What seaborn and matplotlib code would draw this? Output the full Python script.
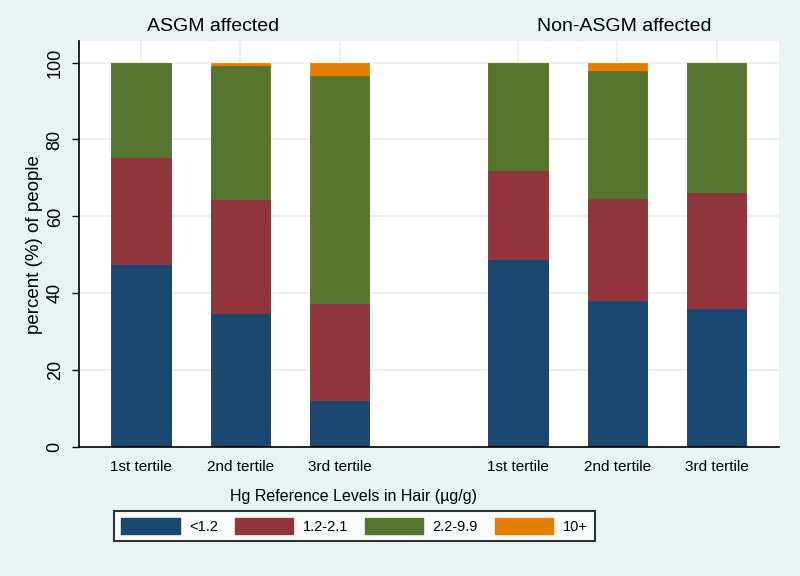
import numpy as np
import pandas as pd
import matplotlib
matplotlib.use("Agg")
import matplotlib.pyplot as plt
from matplotlib.patches import Patch
import seaborn as sns

# ============================
# DADOS
# ============================
tertiles = ["1st tertile", "2nd tertile", "3rd tertile",
            "1st tertile", "2nd tertile", "3rd tertile"]
groups = ["ASGM affected"] * 3 + ["Non-ASGM affected"] * 3
levels = ["<1.2", "1.2-2.1", "2.2-9.9", "10+"]

lt_1_2 = [47.3, 34.7, 12.0, 48.8, 38.0, 35.9]
r_1_2_2_1 = [27.9, 29.5, 25.3, 23.0, 26.6, 30.2]
r_2_2_9_9 = [24.8, 35.0, 59.2, 28.2, 33.3, 33.9]
ge_10 = [0.0, 0.8, 3.5, 0.0, 2.1, 0.0]

colors = ["#1a476f", "#90353b", "#55752f", "#e37e00"]
bg = "#eaf2f3"

# posicoes das barras (grupo com intervalo)
pos = [1, 2, 3, 4.8, 5.8, 6.8]

df = pd.DataFrame({"pos": pos, "tertile": tertiles, "group": groups,
                   levels[0]: lt_1_2, levels[1]: r_1_2_2_1,
                   levels[2]: r_2_2_9_9, levels[3]: ge_10})
cum = df[levels].cumsum(axis=1)
for lv in levels:
    df["cum_" + lv] = cum[lv]

# ============================
# GRAFICO
# ============================
sns.set_theme(style="white")
plt.rcParams["font.family"] = ["Liberation Sans", "DejaVu Sans"]
plt.rcParams["text.color"] = "black"
plt.rcParams["axes.labelcolor"] = "black"
plt.rcParams["xtick.color"] = "black"
plt.rcParams["ytick.color"] = "black"

fig = plt.figure(figsize=(8, 5.76), dpi=100, facecolor=bg)
ax = fig.add_axes([79 / 800, 1 - 447.3 / 576, 700 / 800, 406.3 / 576])
ax.set_facecolor("white")

# gridlines
for p in pos:
    ax.axvline(p, color=bg, lw=1.5, zorder=0)
for yv in [20, 40, 60, 80, 100]:
    ax.axhline(yv, color=bg, lw=1.5, zorder=0)

# barras empilhadas (do total acumulado para baixo)
for lv, c in reversed(list(zip(levels, colors))):
    sns.barplot(data=df, x="pos", y="cum_" + lv, native_scale=True,
                color=c, saturation=1, width=0.6, errorbar=None,
                edgecolor=c, linewidth=0.5, ax=ax, zorder=2)

ax.set_xlim(0.374, 7.43)
ax.set_ylim(0, 105.6)
ax.set_xticks(pos)
ax.set_xticklabels(tertiles, fontsize=11)
ax.set_yticks([0, 20, 40, 60, 80, 100])
ax.set_yticklabels(["0", "20", "40", "60", "80", "100"], fontsize=13,
                   rotation=90, va="center")
ax.tick_params(axis="x", length=0, pad=9)
ax.tick_params(axis="y", length=5, width=1, color="black", pad=6,
               direction="out", left=True)
ax.set_xlabel("")
ax.set_ylabel("percent (%) of people", fontsize=13.5, labelpad=3)

for s in ["top", "right"]:
    ax.spines[s].set_visible(False)
for s in ["left", "bottom"]:
    ax.spines[s].set_color("black")
    ax.spines[s].set_linewidth(1.2)

# titulos dos grupos
trans = ax.get_xaxis_transform()
ax.text(1.73, 1.0345, "ASGM affected", transform=trans, ha="center",
        va="center", fontsize=14)
ax.text(5.87, 1.0345, "Non-ASGM affected", transform=trans, ha="center",
        va="center", fontsize=14)

fig.text(353.5 / 800, 1 - 497 / 576, "Hg Reference Levels in Hair (µg/g)",
         ha="center", va="center", fontsize=11.5)

handles = [Patch(facecolor=c, edgecolor=c) for c in colors]
leg = fig.legend(handles, levels, loc="upper left",
                 bbox_to_anchor=(114 / 800, 1 - 510.7 / 576), ncol=4,
                 fontsize=10.5, handlelength=4.0, handleheight=1.3,
                 handletextpad=0.65, columnspacing=1.15, borderpad=0.5,
                 frameon=True, fancybox=False, borderaxespad=0)
leg.get_frame().set_edgecolor("black")
leg.get_frame().set_linewidth(1.5)
leg.get_frame().set_facecolor("white")

fig.savefig("out.png", dpi=100, facecolor=bg)
